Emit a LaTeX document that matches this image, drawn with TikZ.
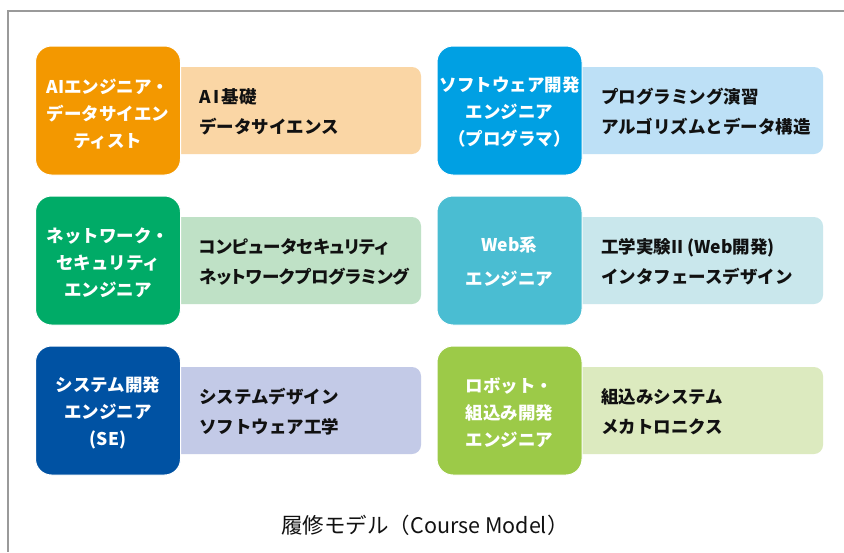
\documentclass[tikz,border=0pt]{standalone}
\usepackage{fontspec}
\setmainfont{Noto Sans CJK JP}
\definecolor{frame}{HTML}{9A9A9A}
\definecolor{orD}{HTML}{F39800}\definecolor{orL}{HTML}{FAD6A5}
\definecolor{blD}{HTML}{00A0E3}\definecolor{blL}{HTML}{BDE0F6}
\definecolor{grD}{HTML}{00AB67}\definecolor{grL}{HTML}{BFE1C6}
\definecolor{teD}{HTML}{4ABDD2}\definecolor{teL}{HTML}{C9E7EC}
\definecolor{nvD}{HTML}{0052A3}\definecolor{nvL}{HTML}{C3CAE7}
\definecolor{liD}{HTML}{9CCA48}\definecolor{liL}{HTML}{DCEABF}
\definecolor{txt}{HTML}{111111}
\newcommand{\tightline}[1]{{\addfontfeature{RawFeature=+palt}#1}}
\tikzset{
  rolebox/.style={draw=white, line width=1pt, rounded corners=16pt, minimum width=145pt, minimum height=129pt, inner sep=0pt},
  coursebox/.style={rounded corners=9pt, minimum width=251pt, minimum height=87pt, inner sep=0pt},
  roletext/.style={text=white, align=center, font=\fontsize{17.5}{27}\selectfont\bfseries},
  roletextw/.style={text=white, align=center, font=\fontsize{17.5}{34}\selectfont\bfseries},
  coursetext/.style={text=txt, align=left, anchor=west, inner sep=0pt, font=\fontsize{17.5}{30}\selectfont\bfseries},
}
\begin{document}
\begin{tikzpicture}[x=1pt,y=-1pt]
\useasboundingbox (0,0) rectangle (844,552);
\fill[white] (0,0) rectangle (844,552);
\draw[frame, line width=2pt] (844,10.5) -- (8,10.5) -- (8,552);

% row 1
\node[coursebox, fill=orL] (c1) at (295.5,110.5) {};
\node[rolebox, fill=orD] (r1) at (108,110.5) {};
\node[roletext] (r1t) at (108,114) {AIエンジニア・\\データサイエン\\ティスト};
\node[coursetext] (c1t) at (199,112) {A\hspace{3pt}I\hspace{2pt}基礎\\データサイエンス};

\node[coursebox, fill=blL] (c2) at (697.5,110.5) {};
\node[rolebox, fill=blD] (r2) at (509.5,110.5) {};
\node[roletext] (r2t) at (509.5,112) {ソフトウェア開発\\エンジニア\\（プログラマ）};
\node[coursetext] (c2t) at (601,112) {プログラミング演習\\アルゴリズムとデータ構造};

% row 2
\node[coursebox, fill=grL] (c3) at (295.5,260.5) {};
\node[rolebox, fill=grD] (r3) at (108,260.5) {};
\node[roletext] (r3t) at (108,263) {ネットワーク・\\セキュリティ\\エンジニア};
\node[coursetext] (c3t) at (199,262) {\tightline{コンピュータセキュリティ}\\\tightline{ネットワークプログラミング}};

\node[coursebox, fill=teL] (c4) at (697.5,260.5) {};
\node[rolebox, fill=teD] (r4) at (509.5,260.5) {};
\node[roletextw] (r4t) at (509.5,262) {Web系\\エンジニア};
\node[coursetext] (c4t) at (601,262) {工学実験II (Web開発)\\インタフェースデザイン};

% row 3
\node[coursebox, fill=nvL] (c5) at (295.5,410.5) {};
\node[rolebox, fill=nvD] (r5) at (108,410.5) {};
\node[roletext] (r5t) at (108,413) {システム開発\\エンジニア\\(SE)};
\node[coursetext] (c5t) at (199,412) {システムデザイン\\ソフトウェア工学};

\node[coursebox, fill=liL] (c6) at (697.5,410.5) {};
\node[rolebox, fill=liD] (r6) at (509.5,410.5) {};
\node[roletext] (r6t) at (509.5,413) {ロボット・\\組込み開発\\エンジニア};
\node[coursetext] (c6t) at (601,412) {組込みシステム\\メカトロニクス};

\node[text=txt, font=\fontsize{21.5}{26}\selectfont] (title) at (425,525) {履修モデル（Course Model）};
\end{tikzpicture}
\end{document}
